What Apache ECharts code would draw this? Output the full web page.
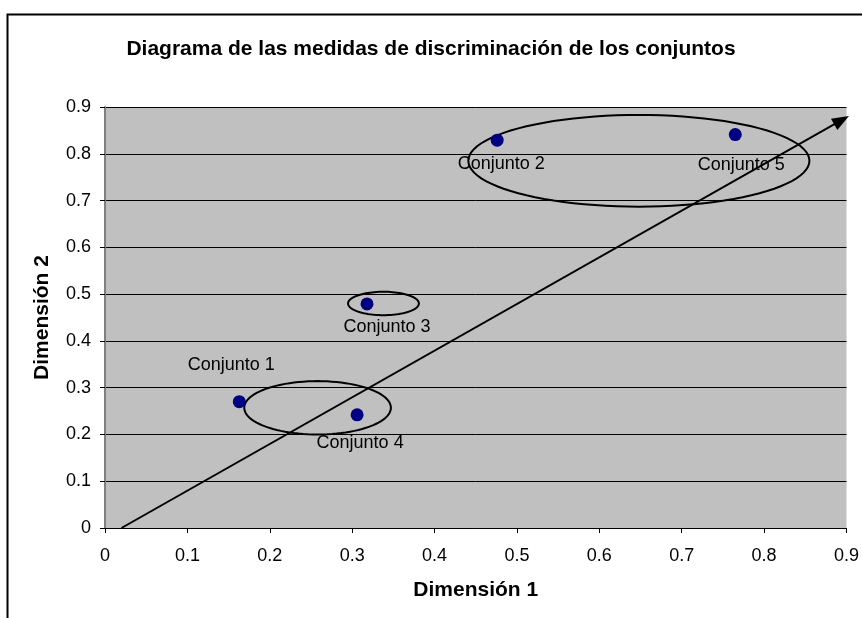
<!DOCTYPE html>
<html>
<head>
<meta charset="utf-8">
<title>Diagrama de las medidas de discriminación</title>
<script src="https://cdn.jsdelivr.net/npm/echarts@6/dist/echarts.min.js"></script>
<style>
  html, body { margin: 0; padding: 0; background: #fff; }
  #main { width: 862px; height: 618px; }
</style>
</head>
<body>
<div id="main"></div>
<script>
// datos de los conjuntos
var names = ['Conjunto 1', 'Conjunto 2', 'Conjunto 3', 'Conjunto 4', 'Conjunto 5'];
var dim1 = [0.163, 0.476, 0.318, 0.306, 0.765];
var dim2 = [0.270, 0.829, 0.479, 0.242, 0.841];

// elipses (centro x, centro y, radio x, radio y)
var ellCx = [0.648, 0.338, 0.258];
var ellCy = [0.785, 0.480, 0.257];
var ellRx = [0.207, 0.043, 0.089];
var ellRy = [0.098, 0.025, 0.057];

// flecha
var arrowFrom = [0.02, 0];
var arrowTo = [0.894, 0.872];

var font = 'Liberation Sans, Arial, sans-serif';

var myChart = echarts.init(document.getElementById('main'));

// desplazamiento de las etiquetas
var labelOffsets = [[-8, -37], [4, 24], [20, 23], [3, 28], [6, 30]];

var points = [];
for (var i = 0; i < names.length; i++) {
	points.push({
		name: names[i],
		value: [dim1[i], dim2[i]],
		label: { offset: labelOffsets[i] }
	});
}

var ellipses = [];
for (var k = 0; k < ellCx.length; k++) {
	ellipses.push([ellCx[k], ellCy[k], ellRx[k], ellRy[k]]);
}

var option = {
	animation: false,
	backgroundColor: '#fff',
	title: {
		text: 'Diagrama de las medidas de discriminación de los conjuntos',
		left: 'center',
		top: 34,
		textStyle: { fontFamily: font, fontSize: 21, fontWeight: 'bold', color: '#000' }
	},
	graphic: [{
		type: 'rect',
		left: 5, top: 12,
		shape: { width: 900, height: 700 },
		style: { fill: 'none', stroke: '#000', lineWidth: 2 },
		silent: true
	}],
	grid: {
		left: 105, right: 15, top: 107, bottom: 90,
		show: true,
		backgroundColor: '#C0C0C0',
		borderWidth: 0
	},
	xAxis: {
		type: 'value',
		min: 0, max: 0.9, interval: 0.1,
		name: 'Dimensión 1',
		nameLocation: 'middle',
		nameGap: 52,
		nameTextStyle: { fontFamily: font, fontSize: 21, fontWeight: 'bold', color: '#000' },
		axisLine: { show: true, onZero: false, lineStyle: { color: '#000', width: 1 } },
		axisTick: { show: true, length: 5, lineStyle: { color: '#000' } },
		axisLabel: {
			margin: 19, fontFamily: font, fontSize: 18, color: '#000',
			formatter: function (v) { return String(+v.toFixed(1)); }
		},
		splitLine: { show: false }
	},
	yAxis: {
		type: 'value',
		min: 0, max: 0.9, interval: 0.1,
		name: 'Dimensión 2',
		nameLocation: 'middle',
		nameGap: 52,
		nameRotate: 90,
		nameTextStyle: { fontFamily: font, fontSize: 21, fontWeight: 'bold', color: '#000' },
		axisLine: { show: true, onZero: false, lineStyle: { color: '#808080', width: 2 } },
		axisTick: { show: true, length: 5, lineStyle: { color: '#000' } },
		axisLabel: {
			margin: 14, fontFamily: font, fontSize: 18, color: '#000',
			formatter: function (v) { return String(+v.toFixed(1)); }
		},
		splitLine: { show: true, lineStyle: { color: '#000', width: 1 } }
	},
	series: [{
		type: 'custom',
		silent: true,
		z: 3,
		data: ellipses,
		renderItem: function (params, api) {
			var cx = api.value(0), cy = api.value(1), rx = api.value(2), ry = api.value(3);
			var pts = [];
			for (var t = 0; t < 96; t++) {
				var a = t / 96 * Math.PI * 2;
				pts.push(api.coord([cx + rx * Math.cos(a), cy + ry * Math.sin(a)]));
			}
			return {
				type: 'polygon',
				shape: { points: pts },
				style: { fill: 'none', stroke: '#000', lineWidth: 2 }
			};
		}
	}, {
		type: 'scatter',
		z: 4,
		symbolSize: 13,
		itemStyle: { color: '#000080', opacity: 1 },
		label: {
			show: true,
			position: 'inside',
			formatter: '{b}',
			fontFamily: font, fontSize: 18, color: '#000'
		},
		data: points,
		markLine: {
			silent: true,
			symbol: ['none', 'triangle'],
			symbolSize: [13, 17],
			label: { show: false },
			lineStyle: { color: '#000', width: 2, type: 'solid' },
			data: [[{ coord: arrowFrom }, { coord: arrowTo }]]
		}
	}]
};

myChart.setOption(option);
</script>
</body>
</html>
